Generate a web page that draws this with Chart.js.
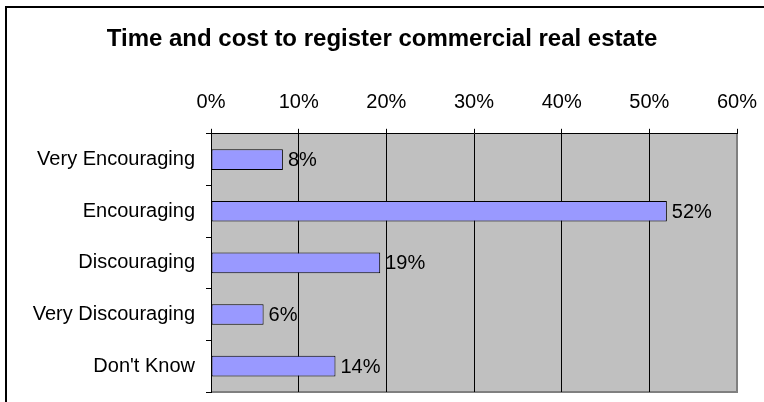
<!DOCTYPE html>
<html>
<head>
<meta charset="utf-8">
<script src="https://cdn.jsdelivr.net/npm/chart.js@4"></script>
<style>
  html, body { margin: 0; padding: 0; background: #fff; overflow: hidden; }
  #wrap { width: 764px; height: 402px; }
  canvas { display: block; }
</style>
</head>
<body>
<div id="wrap"><canvas id="regChart" width="764" height="402"></canvas></div>
<script>
const categories = ["Very Encouraging", "Encouraging", "Discouraging", "Very Discouraging", "Don't Know"];
const shares = [8.2, 52.0, 19.3, 6.0, 14.2];
const shareLabels = ["8%", "52%", "19%", "6%", "14%"];
const xTicks = [0, 10, 20, 30, 40, 50, 60];

const FONT = "'Liberation Sans', Arial, sans-serif";

// grey plot area, grey right/bottom edge, black outer frame on top + left
const plotBackground = {
    id: 'plotBackground',
    beforeDraw(chart) {
        const { ctx, chartArea: a } = chart;
        ctx.save();
        ctx.fillStyle = '#C0C0C0';
        ctx.fillRect(a.left, a.top, a.right - a.left, a.bottom - a.top);
        ctx.fillStyle = '#808080';
        ctx.fillRect(a.left, a.bottom - 1, a.right - a.left + 1, 2);
        ctx.fillRect(a.right - 1, a.top, 2, a.bottom - a.top + 1);
        ctx.fillStyle = '#000';
        ctx.fillRect(5, 6, chart.width - 5, 2);
        ctx.fillRect(5, 6, 2, chart.height - 6);
        ctx.restore();
    }
};

// value labels just right of each bar
const barLabels = {
    id: 'barLabels',
    afterDatasetsDraw(chart) {
        const { ctx } = chart;
        const meta = chart.getDatasetMeta(0);
        ctx.save();
        ctx.font = '20px ' + FONT;
        ctx.fillStyle = '#000';
        ctx.textAlign = 'left';
        ctx.textBaseline = 'middle';
        meta.data.forEach((bar, i) => {
            ctx.fillText(shareLabels[i], bar.x + 5, bar.y + 1);
        });
        ctx.restore();
    }
};

new Chart(document.getElementById('regChart'), {
    type: 'bar',
    data: {
        labels: categories,
        datasets: [{
            data: shares,
            backgroundColor: '#9999FF',
            borderColor: '#000',
            borderWidth: 1,
            borderSkipped: false,
            barPercentage: 0.4,
            categoryPercentage: 1
        }]
    },
    options: {
        indexAxis: 'y',
        responsive: false,
        animation: false,
        devicePixelRatio: 1,
        layout: { padding: { left: 27, right: 27, top: 0, bottom: 10 } },
        plugins: {
            legend: { display: false },
            tooltip: { enabled: false },
            title: {
                display: true,
                text: 'Time and cost to register commercial real estate',
                color: '#000',
                font: { family: FONT, size: 24, weight: 'bold' },
                padding: { top: 25, bottom: 0 }
            }
        },
        scales: {
            x: {
                position: 'top',
                min: 0,
                max: 60,
                afterFit(scale) {
                    scale.height = 80;
                    scale.paddingLeft = 0;
                    scale.paddingRight = 0;
                },
                afterBuildTicks(scale) { scale.ticks = xTicks.map(v => ({ value: v })); },
                ticks: {
                    color: '#000',
                    padding: 14,
                    font: { family: FONT, size: 20 },
                    callback: v => v + '%'
                },
                grid: {
                    color: ctx => ctx.index === xTicks.length - 1 ? '#808080' : '#000',
                    tickColor: '#000',
                    tickLength: 5,
                    lineWidth: 1
                },
                border: { display: true, color: '#000', width: 1 }
            },
            y: {
                afterFit(scale) {
                    scale.width = 184;
                    scale.paddingTop = 0;
                    scale.paddingBottom = 0;
                },
                ticks: {
                    color: '#000',
                    padding: 11,
                    font: { family: FONT, size: 20 }
                },
                grid: {
                    offset: true,
                    drawOnChartArea: false,
                    color: '#000',
                    tickLength: 5
                },
                border: { display: true, color: '#000', width: 1 }
            }
        }
    },
    plugins: [plotBackground, barLabels]
});
</script>
</body>
</html>
